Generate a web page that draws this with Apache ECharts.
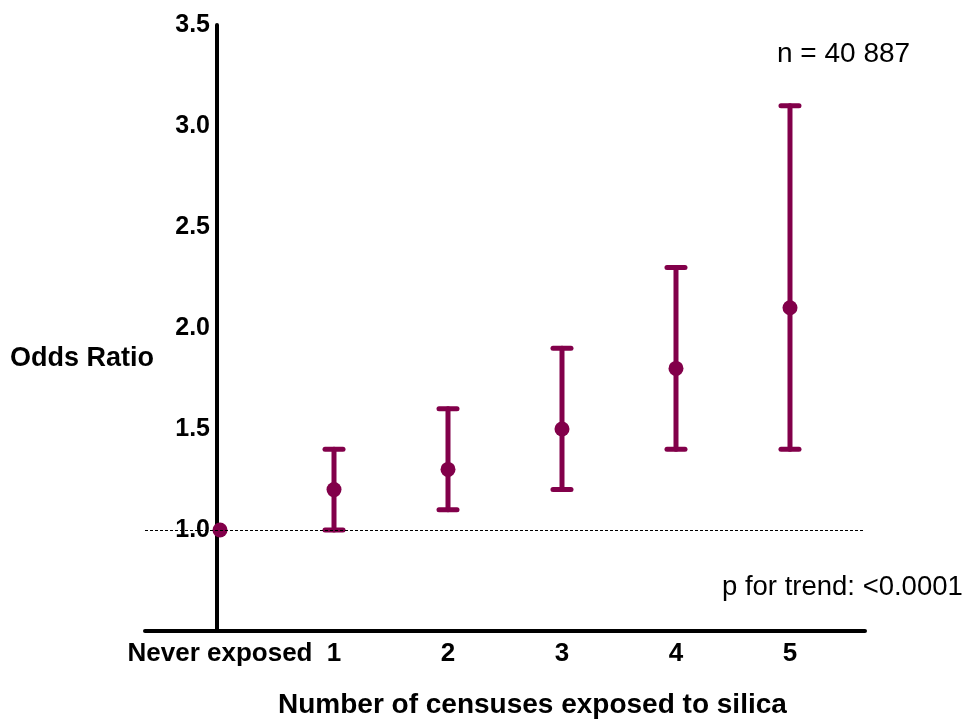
<!DOCTYPE html>
<html>
<head>
<meta charset="utf-8">
<script src="https://cdn.jsdelivr.net/npm/echarts@6/dist/echarts.min.js"></script>
<style>
    html, body { margin: 0; padding: 0; background: #fff; }
    #chart { width: 965px; height: 720px; }
</style>
</head>
<body>
<div id="chart"></div>
<script>
    // data
    const categories = ['Never exposed', '1', '2', '3', '4', '5'];
    const oddsRatio = [1.0, 1.2, 1.3, 1.5, 1.8, 2.1];
    const lowerCI = [null, 1.0, 1.1, 1.2, 1.4, 1.4];
    const upperCI = [null, 1.4, 1.6, 1.9, 2.3, 3.1];
    const yTicks = [0.5, 1.0, 1.5, 2.0, 2.5, 3.0, 3.5];

    const barColor = '#82004A';
    const font = 'Liberation Sans, Arial, sans-serif';

    const pointData = oddsRatio.map((v, i) => [i, v]);
    const ciData = [];
    lowerCI.forEach((lo, i) => {
        if (lo !== null) ciData.push([i, lo, upperCI[i]]);
    });

    const option = {
        animation: false,
        grid: { left: 145, right: 100, top: 25, bottom: 89 },
        xAxis: {
            type: 'value',
            min: -0.658,
            max: 5.658,
            splitLine: { show: false },
            axisTick: { show: false },
            axisLine: { onZero: false, lineStyle: { color: '#000', width: 4 } },
            axisLabel: {
                customValues: [0, 1, 2, 3, 4, 5],
                formatter: v => categories[Math.round(v)],
                color: '#000',
                fontFamily: font,
                fontWeight: 'bold',
                fontSize: 26,
                margin: 10
            }
        },
        yAxis: {
            type: 'value',
            min: yTicks[0],
            max: yTicks[yTicks.length - 1],
            interval: 0.5,
            offset: -72,
            splitLine: { show: false },
            axisTick: { show: false },
            axisLine: { onZero: false, lineStyle: { color: '#000', width: 4 } },
            axisLabel: {
                formatter: v => (v === 0.5 ? '' : v.toFixed(1)),
                color: '#000',
                fontFamily: font,
                fontWeight: 'bold',
                fontSize: 25,
                margin: 7
            }
        },
        graphic: [
            {
                type: 'text', left: 10, top: 345,
                style: { text: 'Odds Ratio', font: 'bold 27px ' + font, fill: '#000' }
            },
            {
                type: 'text', left: 278, top: 691,
                style: { text: 'Number of censuses exposed to silica', font: 'bold 28px ' + font, fill: '#000' }
            },
            {
                type: 'text', left: 777, top: 40,
                style: { text: 'n = 40 887', font: '28px ' + font, fill: '#000' }
            },
            {
                type: 'text', left: 722, top: 573,
                style: { text: 'p for trend: <0.0001', font: '27.5px ' + font, fill: '#000' }
            }
        ],
        series: [
            {
                type: 'custom',
                data: ciData,
                z: 3,
                renderItem: (params, api) => {
                    const low = api.coord([api.value(0), api.value(1)]);
                    const high = api.coord([api.value(0), api.value(2)]);
                    const half = 9;
                    const style = { stroke: barColor, lineWidth: 5, lineCap: 'round' };
                    return {
                        type: 'group',
                        children: [
                            { type: 'line', shape: { x1: low[0], y1: low[1], x2: high[0], y2: high[1] }, style: style },
                            { type: 'line', shape: { x1: low[0] - half, y1: low[1], x2: low[0] + half, y2: low[1] }, style: style },
                            { type: 'line', shape: { x1: high[0] - half, y1: high[1], x2: high[0] + half, y2: high[1] }, style: style }
                        ]
                    };
                }
            },
            {
                type: 'scatter',
                data: pointData,
                symbolSize: 15,
                z: 4,
                itemStyle: { color: barColor, opacity: 1 },
                markLine: {
                    silent: true,
                    symbol: 'none',
                    label: { show: false },
                    lineStyle: { color: '#000', type: [3, 2], width: 1 },
                    data: [{ yAxis: 1.0 }]
                }
            }
        ]
    };

    const myChart = echarts.init(document.getElementById('chart'));
    myChart.setOption(option);
</script>
</body>
</html>
